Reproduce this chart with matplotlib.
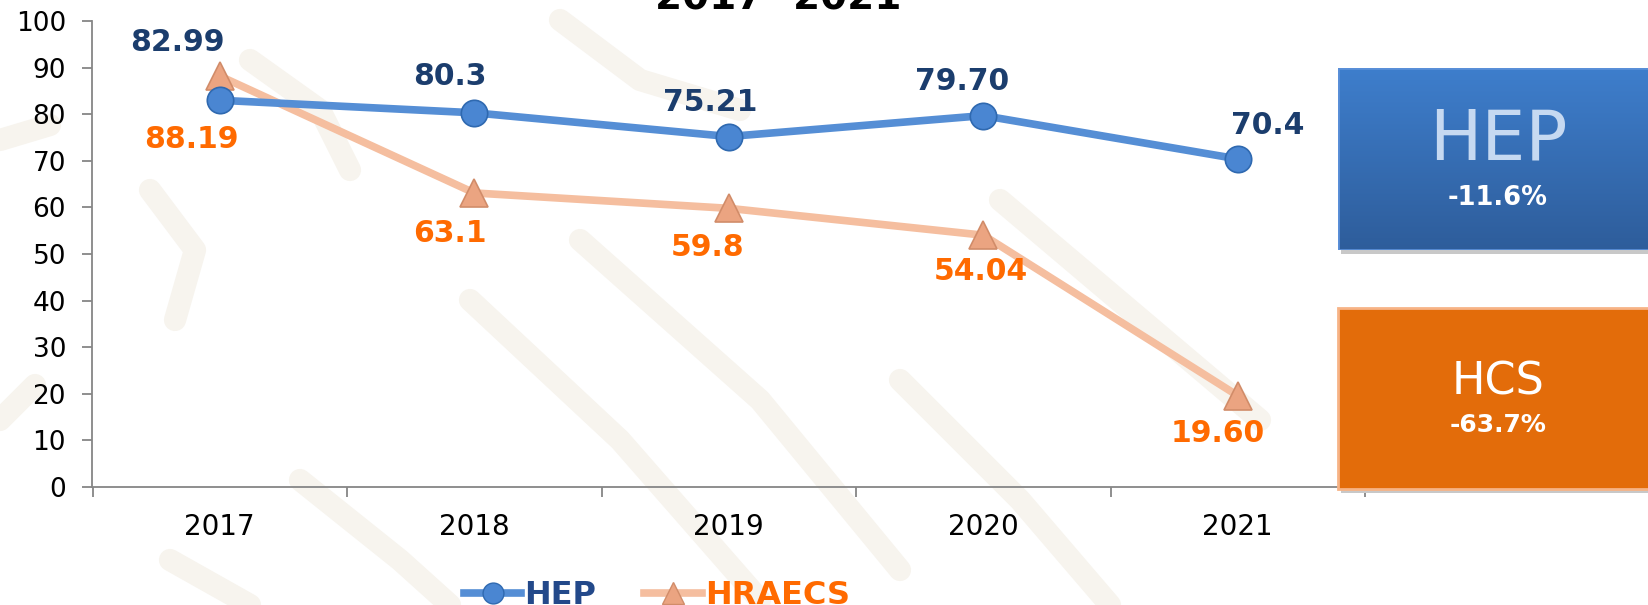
import numpy as np
import matplotlib
matplotlib.use('Agg')
import matplotlib.pyplot as plt
from matplotlib.patches import Rectangle
from matplotlib.lines import Line2D

# ---------------- data ----------------
years = ['2017', '2018', '2019', '2020', '2021']
hep = [82.99, 80.3, 75.21, 79.70, 70.4]
hraecs = [88.19, 63.1, 59.8, 54.04, 19.60]
hep_labels = ['82.99', '80.3', '75.21', '79.70', '70.4']
hraecs_labels = ['88.19', '63.1', '59.8', '54.04', '19.60']
yticks = list(range(0, 101, 10))
series_names = ['HEP', 'HRAECS']
box_titles = ['HEP', 'HCS']
box_changes = ['-11.6%', '-63.7%']
title = '2017- 2021'

# ---------------- styling / layout ----------------
W, H = 1649, 605
fig = plt.figure(figsize=(W / 100, H / 100), dpi=100)
fig.patch.set_facecolor('white')

# light watermark in the background
bg = fig.add_axes([0, 0, 1, 1], zorder=0)
bg.set_xlim(0, W)
bg.set_ylim(H, 0)
bg.axis('off')
wm = '#F7F4EE'
strokes = [
    [(470, 300), (620, 440), (760, 600)],
    [(580, 240), (760, 400), (900, 570)],
    [(900, 380), (1020, 500), (1110, 605)],
    [(1000, 200), (1130, 310), (1260, 420)],
    [(300, 480), (400, 560), (450, 605)],
    [(170, 560), (250, 605)],
    [(250, 60), (320, 110), (350, 170)],
    [(560, 20), (640, 80), (740, 110)],
    [(150, 190), (195, 250), (175, 320)],
    [(0, 140), (50, 125)],
    [(0, 420), (35, 385)],
]
for s in strokes:
    xs, ys = zip(*s)
    bg.plot(xs, ys, color=wm, lw=16, solid_capstyle='round', solid_joinstyle='round')

ax_left, ax_right = 92.5, 1365
ax_top, ax_bot = 21, 487
ax = fig.add_axes([ax_left / W, 1 - ax_bot / H, (ax_right - ax_left) / W, (ax_bot - ax_top) / H], zorder=1)
ax.patch.set_alpha(0)

x = np.arange(len(years))
hep_line = '#558ED5'
hra_line = '#F5BE9F'
hep_txt = '#1B3D6D'
hra_txt = '#FF6A00'

ax.plot(x, hraecs, color=hra_line, lw=5.5, marker='^', ms=20, mfc='#EBA481', mec='#D18C69', mew=1.2,
        zorder=3, solid_capstyle='round')
ax.plot(x, hep, color=hep_line, lw=5.5, marker='o', ms=19, mfc='#4A86D2', mec='#2F69B0', mew=1.2,
        zorder=4, solid_capstyle='round')

hep_off = [(-42, 58), (-24, 36), (-19, 34), (-21, 34), (30, 33)]
hra_off = [(-28, -63), (-24, -41), (-21, -39), (-2, -36), (-20, -38)]
for i in range(len(years)):
    ax.annotate(hep_labels[i], (x[i], hep[i]), xytext=hep_off[i], textcoords='offset pixels',
                ha='center', va='center', fontsize=21.5, fontweight='bold', color=hep_txt, zorder=6)
    ax.annotate(hraecs_labels[i], (x[i], hraecs[i]), xytext=hra_off[i], textcoords='offset pixels',
                ha='center', va='center', fontsize=21.5, fontweight='bold', color=hra_txt, zorder=6)

ax.set_xlim(-0.5, len(years) - 0.5)
ax.set_ylim(0, 100)
ax.set_yticks(yticks)
ax.tick_params(axis='y', length=7, width=1.3, color='#868686', labelsize=19, pad=12, labelcolor='black')
ax.set_xticks(np.arange(len(years) + 1) - 0.5)
ax.set_xticklabels([])
ax.tick_params(axis='x', which='major', length=7, width=1.3, color='#868686')
ax.set_xticks(x, minor=True)
ax.set_xticklabels(years, minor=True)
ax.tick_params(axis='x', which='minor', length=0, labelsize=20, pad=19, labelcolor='black')
for sp in ['top', 'right']:
    ax.spines[sp].set_visible(False)
for sp in ['left', 'bottom']:
    ax.spines[sp].set_color('#868686')
    ax.spines[sp].set_linewidth(1.3)

# title (cut off at top, as in the reference)
fig.text(778 / W, 1 - 9 / H, title, ha='center', va='baseline', fontsize=28, fontweight='bold',
         color='black', zorder=5)

# legend
handles = [
    Line2D([], [], color=hep_line, lw=5.5, marker='o', ms=15, mfc='#4A86D2', mec='#2F69B0'),
    Line2D([], [], color=hra_line, lw=5.5, marker='^', ms=16, mfc='#EBA481', mec='#D18C69'),
]
leg = fig.legend(handles, series_names, loc='center', bbox_to_anchor=(657 / W, 1 - 596 / H),
                 ncol=2, frameon=False, handlelength=1.8, handletextpad=0.1, columnspacing=1.5,
                 prop={'size': 23, 'weight': 'bold'})
leg.get_texts()[0].set_color('#23498A')
leg.get_texts()[1].set_color(hra_txt)

# summary boxes
bx0 = 1338
# HEP box with gradient
fig.patches.append(Rectangle(((bx0 + 3) / W, 1 - (250 + 4) / H), (W - bx0) / W, (250 - 68) / H,
                             transform=fig.transFigure, facecolor='#C8C8C8', edgecolor='none', zorder=7))
bax = fig.add_axes([bx0 / W, 1 - 250 / H, (W - bx0) / W, (250 - 68) / H], zorder=8)
top_c = np.array([0x3E, 0x7E, 0xCC]) / 255
bot_c = np.array([0x2E, 0x5D, 0x9B]) / 255
t = np.linspace(0, 1, 100)[:, None, None]
grad = top_c * (1 - t) + bot_c * t
grad = np.repeat(grad, 2, axis=1)
bax.imshow(grad, aspect='auto', extent=[0, 1, 0, 1])
bax.set_xlim(0, 1)
bax.set_ylim(0, 1)
bax.axis('off')
bax.add_patch(Rectangle((0, 0), 1, 1, fill=False, edgecolor='#5A8FD8', lw=2))
fig.text(1498 / W, 1 - 140 / H, box_titles[0], ha='center', va='center', fontsize=50,
         color='#C6D9F1', zorder=9)
fig.text(1498 / W, 1 - 198 / H, box_changes[0], ha='center', va='center', fontsize=18.5,
         fontweight='bold', color='white', zorder=9)

# HCS box
fig.patches.append(Rectangle(((bx0 + 3) / W, 1 - (489 + 4) / H), (W - bx0) / W, (489 - 308) / H,
                             transform=fig.transFigure, facecolor='#C8C8C8', edgecolor='none', zorder=7))
fig.patches.append(Rectangle((bx0 / W, 1 - 489 / H), (W - bx0) / W, (489 - 308) / H,
                             transform=fig.transFigure, facecolor='#E36C0A', edgecolor='#F7B386',
                             lw=2, zorder=8))
fig.text(1498 / W, 1 - 382 / H, box_titles[1], ha='center', va='center', fontsize=32,
         color='white', zorder=9)
fig.text(1498 / W, 1 - 425 / H, box_changes[1], ha='center', va='center', fontsize=18,
         fontweight='bold', color='white', zorder=9)

fig.savefig('out.png', dpi=100)
